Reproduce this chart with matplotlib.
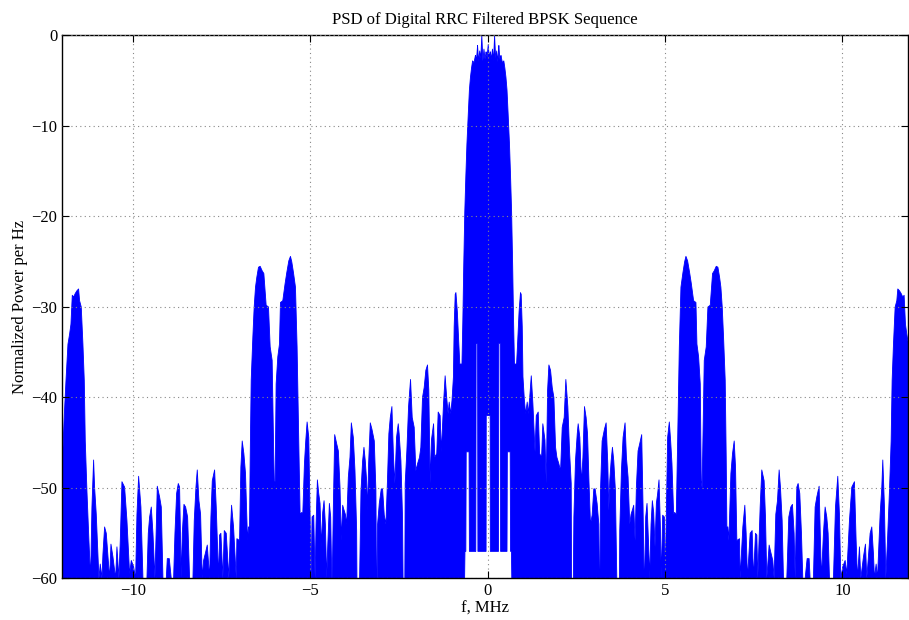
import numpy as np
import matplotlib
matplotlib.use("Agg")
import matplotlib.pyplot as plt

# ---- data: positive-frequency half of the PSD (spectrum of a real signal is symmetric)
# frequency in MHz, upper envelope of the PSD in dB
freq_pos = [0.00, 0.03, 0.06, 0.09, 0.12, 0.15, 0.18, 0.21, 0.24, 0.27, 0.30, 0.33, 0.36,
            0.40, 0.44, 0.47, 0.50, 0.53, 0.56, 0.60, 0.63, 0.66, 0.69, 0.715, 0.74, 0.80,
            0.83, 0.87, 0.91, 0.93, 0.96, 0.98, 1.02, 1.055, 1.10, 1.13, 1.17, 1.214, 1.26,
            1.32, 1.355, 1.41, 1.45, 1.505, 1.54, 1.60, 1.636, 1.674, 1.711, 1.758, 1.805,
            1.852, 1.899, 1.936, 1.99, 2.04, 2.086, 2.142, 2.189, 2.245, 2.293, 2.34, 2.35,
            2.40, 2.415, 2.46, 2.51, 2.536, 2.583, 2.63, 2.67, 2.714, 2.76, 2.80, 2.84, 2.883,
            2.93, 2.977, 3.014, 3.07, 3.118, 3.13, 3.15, 3.165, 3.211, 3.277, 3.324, 3.371,
            3.40, 3.427, 3.465, 3.502, 3.54, 3.586, 3.625, 3.70, 3.708, 3.755, 3.802, 3.858,
            3.896, 3.943, 3.99, 4.027, 4.074, 4.102, 4.14, 4.177, 4.224, 4.271, 4.327, 4.365,
            4.395, 4.41, 4.44, 4.477, 4.524, 4.552, 4.59, 4.627, 4.665, 4.702, 4.74, 4.777,
            4.815, 4.852, 4.88, 4.918, 4.965, 4.993, 5.021, 5.058, 5.105, 5.143, 5.18, 5.227,
            5.255, 5.302, 5.34, 5.387, 5.433, 5.489, 5.537, 5.574, 5.621, 5.678, 5.725, 5.79,
            5.856, 5.884, 5.931, 5.978, 6.006, 6.03, 6.052, 6.09, 6.146, 6.193, 6.259, 6.324,
            6.371, 6.428, 6.475, 6.522, 6.559, 6.597, 6.634, 6.681, 6.709, 6.728, 6.756,
            6.784, 6.841, 6.887, 6.934, 6.972, 7.009, 7.084, 7.102, 7.178, 7.234, 7.271,
            7.309, 7.384, 7.44, 7.478, 7.535, 7.572, 7.60, 7.666, 7.712, 7.778, 7.816, 7.853,
            7.919, 7.966, 8.022, 8.06, 8.107, 8.154, 8.201, 8.238, 8.286, 8.323, 8.417, 8.473,
            8.529, 8.576, 8.623, 8.652, 8.699, 8.736, 8.783, 8.83, 8.868, 8.934, 8.99, 9.046,
            9.074, 9.168, 9.215, 9.262, 9.328, 9.356, 9.394, 9.45, 9.497, 9.544, 9.582, 9.62,
            9.732, 9.789, 9.854, 9.901, 9.939, 9.995, 10.061, 10.108, 10.183, 10.249, 10.324,
            10.371, 10.409, 10.465, 10.503, 10.578, 10.634, 10.672, 10.766, 10.813, 10.86,
            10.888, 10.935, 10.973, 11.048, 11.095, 11.123, 11.17, 11.208, 11.255, 11.311,
            11.358, 11.386, 11.424, 11.471, 11.518, 11.546, 11.593, 11.64, 11.687, 11.724,
            11.762, 11.80, 11.846, 11.90, 11.95, 12.00]

psd_upper_db = [-1.0, -2.4, -1.8, -2.6, -1.5, -2.8, 0.0, -2.5, -1.7, -2.9, -1.1, -2.7, -2.2,
                -3.0, -2.8, -3.6, -4.6, -6.0, -8.5, -12.0, -15.5, -19.5, -25.5, -31.5, -36.3,
                -36.3, -33.9, -30.5, -28.4, -28.6, -32.2, -37.7, -40.3, -41.8, -40.5, -41.8,
                -40.0, -37.6, -40.7, -46.0, -42.0, -41.6, -46.2, -46.6, -42.9, -44.7, -49.5,
                -39.2, -36.4, -37.0, -38.9, -40.0, -45.5, -46.6, -47.3, -48.1, -43.3, -42.2,
                -38.0, -41.0, -45.9, -49.5, -60.0, -60.0, -53.2, -47.0, -44.0, -42.9, -44.4,
                -49.5, -46.6, -41.0, -42.2, -44.0, -49.2, -54.0, -53.0, -50.1, -50.1, -51.7,
                -54.0, -60.0, -60.0, -50.3, -44.8, -43.5, -42.8, -47.3, -52.5, -49.2, -47.0,
                -45.5, -47.0, -50.3, -60.0, -60.0, -54.7, -48.1, -44.4, -42.8, -46.6, -48.8,
                -54.0, -52.9, -52.3, -51.9, -55.8, -49.9, -45.9, -45.1, -44.1, -52.1, -60.0,
                -60.0, -53.2, -51.7, -56.5, -60.0, -54.0, -51.4, -52.7, -56.5, -51.7, -50.6,
                -49.1, -54.0, -60.0, -53.0, -53.2, -60.0, -52.9, -44.4, -42.7, -44.8, -47.3,
                -52.9, -52.7, -52.9, -44.8, -34.4, -27.8, -26.2, -25.0, -24.4, -24.9, -26.2,
                -27.4, -29.3, -29.5, -34.1, -35.5, -38.5, -49.2, -50.0, -44.8, -35.9, -34.4,
                -30.0, -29.8, -26.3, -26.0, -25.5, -25.6, -26.7, -27.8, -30.0, -33.3, -38.1,
                -46.6, -54.3, -54.3, -55.8, -48.4, -46.2, -44.8, -47.7, -55.8, -55.6, -60.0,
                -54.3, -51.9, -55.0, -60.0, -55.0, -54.7, -60.0, -55.0, -55.2, -60.0, -52.1,
                -48.0, -49.2, -53.2, -60.0, -56.3, -57.1, -58.0, -60.0, -52.9, -51.4, -48.0,
                -49.9, -53.6, -60.0, -60.0, -53.2, -52.1, -51.8, -55.0, -60.0, -49.9, -49.5,
                -50.6, -55.0, -60.0, -60.0, -57.8, -57.8, -60.0, -60.0, -52.1, -51.0, -49.8,
                -54.3, -60.0, -55.0, -52.1, -53.2, -55.0, -60.0, -60.0, -52.1, -48.7, -52.9,
                -60.0, -58.7, -58.0, -59.5, -53.6, -49.9, -49.3, -55.8, -60.0, -56.5, -60.0,
                -57.6, -56.2, -60.0, -55.0, -54.3, -57.3, -60.0, -58.4, -60.0, -52.9, -49.9,
                -46.9, -52.1, -60.0, -55.8, -50.3, -44.8, -38.1, -34.1, -30.0, -29.3, -28.0,
                -28.2, -28.5, -28.9, -28.7, -31.9, -33.0, -34.1, -38.0, -42.0, -47.0]

# lower envelope of the dense trace inside the main lobe (white notches)
lower_freq_pos = [0.00, 0.055, 0.06, 0.29, 0.30, 0.34, 0.35, 0.53, 0.54, 0.62, 0.63, 0.655, 0.665, 12.00]
lower_db_pos = [-42.0, -42.0, -57.0, -57.0, -34.0, -34.0, -57.0, -57.0, -46.0, -46.0, -57.0, -57.0, -60.0, -60.0]

x_ticks = [-10, -5, 0, 5, 10]
y_ticks = [0, -10, -20, -30, -40, -50, -60]

# ---- build the full two-sided spectrum
fp = np.array(freq_pos)
up = np.array(psd_upper_db)
freq = np.concatenate([-fp[::-1], fp[1:]])
upper = np.concatenate([up[::-1], up[1:]])
lf = np.array(lower_freq_pos)
ld = np.array(lower_db_pos)
lower = np.interp(np.abs(freq), lf, ld)
# refine: use a dense grid so notches keep their sharp edges
grid = np.union1d(freq, np.concatenate([-lf, lf]))
upper_g = np.interp(grid, freq, upper)
lower_g = np.interp(np.abs(grid), lf, ld)
lower_g = np.minimum(lower_g, upper_g)

plt.rcParams['font.family'] = ['Liberation Serif', 'DejaVu Serif']
fig = plt.figure(figsize=(9.09, 6.20), dpi=100)
ax = fig.add_axes([0.0682, 0.0677, 0.9308, 0.8758])

ax.fill_between(grid, lower_g, upper_g, color='#0000ff', linewidth=0.6, edgecolor='#0000ff')

ax.set_xlim(-12.0, 11.85)
ax.set_ylim(-60, 0)
ax.set_xticks(x_ticks)
ax.set_yticks(y_ticks)
ax.grid(True, linestyle=(0, (1, 3)), color='#888888', linewidth=0.8)
ax.set_axisbelow(False)
ax.tick_params(direction='in', top=True, right=True, labelsize=12, length=5)
for s in ax.spines.values():
    s.set_linewidth(1.0)
ax.set_title('PSD of Digital RRC Filtered BPSK Sequence', fontsize=12, pad=8)
ax.set_xlabel('f, MHz', fontsize=12, labelpad=1)
ax.set_ylabel('Normalized Power per Hz', fontsize=12, labelpad=2)

fig.savefig('out.png', dpi=100)
